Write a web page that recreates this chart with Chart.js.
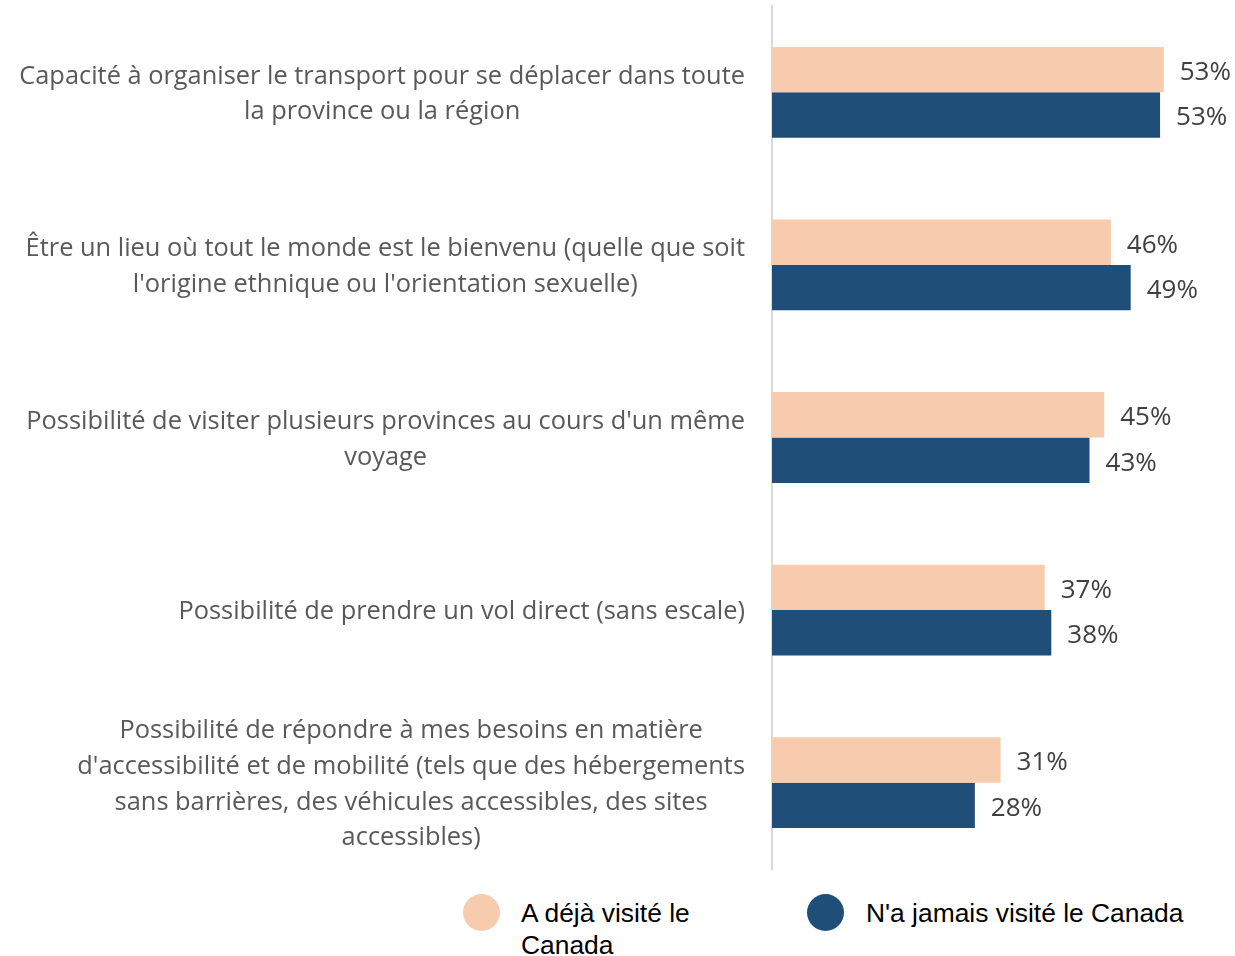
<!DOCTYPE html>
<html lang="fr">
<head>
<meta charset="utf-8">
<script src="https://cdn.jsdelivr.net/npm/chart.js@4"></script>
<style>
  body { margin: 0; background: #fff; width: 1235px; height: 956px; position: relative; overflow: hidden; }
  #wrap { position: absolute; left: 0; top: 0; width: 1235px; height: 880px; }
  .leg-dot { position: absolute; width: 37px; height: 37px; border-radius: 50%; }
  .leg-txt { position: absolute; font-family: "Liberation Sans", Arial, sans-serif; font-size: 26.4px; line-height: 32px; color: #000; }
</style>
</head>
<body>
<div id="wrap"><canvas id="chart" width="1235" height="880"></canvas></div>
<div id="legend"></div>
<script>
// Categories (each entry is the lines of the label)
const categories = [
    ["Capacité à organiser le transport pour se déplacer dans toute", "la province ou la région"],
    ["Être un lieu où tout le monde est le bienvenu (quelle que soit", "l'origine ethnique ou l'orientation sexuelle)"],
    ["Possibilité de visiter plusieurs provinces au cours d'un même", "voyage"],
    ["Possibilité de prendre un vol direct (sans escale)"],
    ["Possibilité de répondre à mes besoins en matière", "d'accessibilité et de mobilité (tels que des hébergements", "sans barrières, des véhicules accessibles, des sites", "accessibles)"]
];

// Series values (%)
const dejaVisite = [53.3, 46.1, 45.2, 37.1, 31.1];
const jamaisVisite = [52.8, 48.8, 43.2, 38.0, 27.6];

const seriesNames = ["A déjà visité le Canada", "N'a jamais visité le Canada"];
const seriesColors = ['#f7cbad', '#1f4e79'];

// Draws the category labels: each block centred on itself, blocks right-aligned
const categoryLabels = {
    id: 'categoryLabels',
    afterDraw(chart) {
        const ctx = chart.ctx;
        const y = chart.scales.y;
        const right = chart.chartArea.left - 27;
        const lineH = 35.7;
        ctx.save();
        ctx.font = '25.4px "Open Sans"';
        ctx.fillStyle = '#595959';
        ctx.textAlign = 'center';
        ctx.textBaseline = 'middle';
        categories.forEach((lines, i) => {
            const cy = y.getPixelForTick(i) + 2;
            const maxW = Math.max(...lines.map(l => ctx.measureText(l).width));
            const cx = right - maxW / 2;
            const top = cy - (lines.length - 1) * lineH / 2;
            lines.forEach((l, j) => ctx.fillText(l, cx, top + j * lineH));
        });
        ctx.restore();
    }
};

// Value labels at the end of each bar
const valueLabels = {
    id: 'valueLabels',
    afterDatasetsDraw(chart) {
        const ctx = chart.ctx;
        ctx.save();
        ctx.font = '26px "Open Sans"';
        ctx.fillStyle = '#404040';
        ctx.textAlign = 'left';
        ctx.textBaseline = 'middle';
        chart.data.datasets.forEach((ds, di) => {
            chart.getDatasetMeta(di).data.forEach((bar, i) => {
                ctx.fillText(Math.round(ds.data[i]) + '%', bar.x + 16, bar.y + 3);
            });
        });
        ctx.restore();
    }
};

const chart = new Chart(document.getElementById('chart').getContext('2d'), {
    type: 'bar',
    data: {
        labels: categories,
        datasets: [
            { label: seriesNames[0], data: dejaVisite, backgroundColor: seriesColors[0] },
            { label: seriesNames[1], data: jamaisVisite, backgroundColor: seriesColors[1] }
        ]
    },
    options: {
        indexAxis: 'y',
        responsive: false,
        animation: false,
        layout: { padding: { top: 6, bottom: 11, left: 0, right: 22 } },
        datasets: { bar: { categoryPercentage: 0.526, barPercentage: 1 } },
        scales: {
            x: { display: false, min: 0, max: 60 },
            y: {
                ticks: { display: false },
                grid: { display: false },
                border: { display: true, color: '#d9d9d9', width: 2 },
                afterFit: s => { s.width = 772; }
            }
        },
        plugins: {
            legend: { display: false },
            tooltip: { enabled: false }
        }
    },
    plugins: [categoryLabels, valueLabels]
});

// HTML legend (allows the first label to wrap as in the original)
const legend = document.getElementById('legend');
const legPos = [{ dot: 463, txt: 521, w: 185 }, { dot: 807, txt: 866, w: 369 }];
seriesNames.forEach((name, i) => {
    const dot = document.createElement('div');
    dot.className = 'leg-dot';
    dot.style.left = legPos[i].dot + 'px';
    dot.style.top = '894px';
    dot.style.background = seriesColors[i];
    const txt = document.createElement('div');
    txt.className = 'leg-txt';
    txt.style.left = legPos[i].txt + 'px';
    txt.style.top = '897px';
    txt.style.width = legPos[i].w + 'px';
    txt.textContent = name;
    legend.appendChild(dot);
    legend.appendChild(txt);
});
</script>
</body>
</html>
